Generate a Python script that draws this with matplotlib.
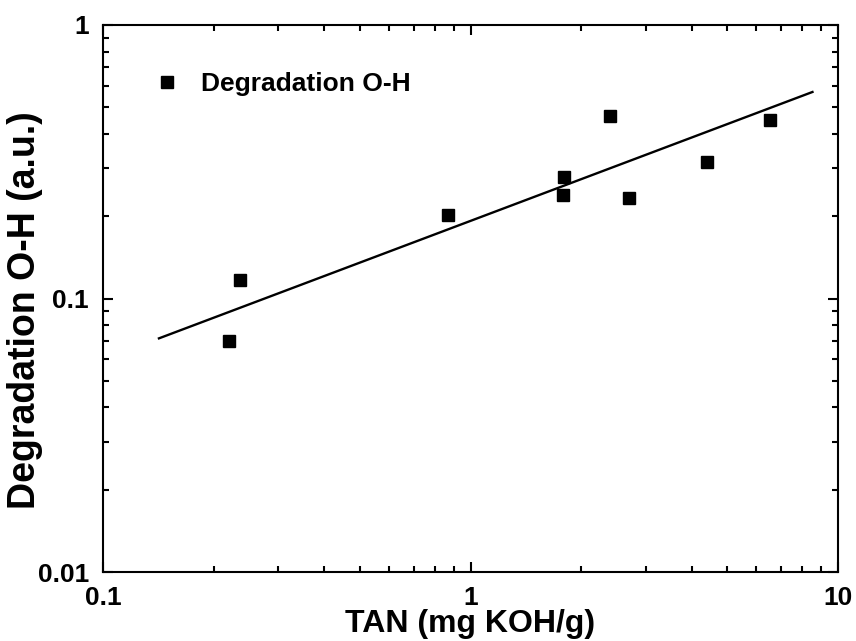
import matplotlib
matplotlib.use('Agg')
import matplotlib.pyplot as plt
from matplotlib.ticker import LogLocator, FuncFormatter, NullFormatter

# TAN vs O-H degradation
tan = [0.220, 0.236, 0.871, 1.80, 1.78, 2.40, 2.70, 4.39, 6.51]
degradation = [0.0697, 0.117, 0.202, 0.279, 0.239, 0.466, 0.234, 0.316, 0.448]

# power-law fit line endpoints
fit_x = [0.142, 8.52]
fit_y = [0.0715, 0.569]

plt.rcParams['font.family'] = ['Liberation Sans', 'DejaVu Sans']
plt.rcParams['font.weight'] = 'bold'

fig = plt.figure(figsize=(8.56, 6.41), dpi=100)
ax = fig.add_axes([0.1203, 0.1076, 0.8587, 0.8534])

ax.plot(tan, degradation, 's', color='black', markersize=8.6, label='Degradation O-H')
ax.plot(fit_x, fit_y, '-', color='black', linewidth=1.7)

ax.set_xscale('log')
ax.set_yscale('log')
ax.set_xlim(0.1, 10)
ax.set_ylim(0.01, 1)

fmt = FuncFormatter(lambda v, p: '%g' % v)
for axis in (ax.xaxis, ax.yaxis):
    axis.set_major_locator(LogLocator(base=10))
    axis.set_minor_locator(LogLocator(base=10, subs=range(2, 10)))
    axis.set_major_formatter(fmt)
    axis.set_minor_formatter(NullFormatter())

ax.tick_params(which='both', direction='in', top=True, right=True, width=1.5)
ax.tick_params(which='major', length=7, labelsize=19, pad=10)
ax.tick_params(which='minor', length=4)
for s in ax.spines.values():
    s.set_linewidth(1.5)

ax.set_xlabel('TAN (mg KOH/g)', fontsize=23, fontweight='bold', labelpad=-1)
ax.set_ylabel('Degradation O-H (a.u.)', fontsize=27, fontweight='bold')
ax.yaxis.set_label_coords(-0.082, 0.478)

ax.legend(loc='upper left', bbox_to_anchor=(0.037, 0.957), frameon=False,
          fontsize=19, handletextpad=0.8, handlelength=1.0)

fig.savefig('out.png', dpi=100)
